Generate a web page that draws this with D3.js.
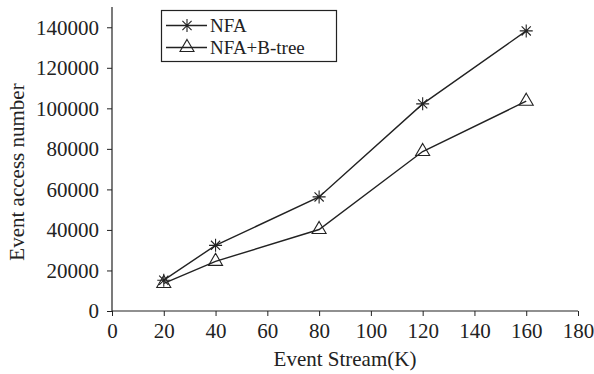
<!DOCTYPE html>
<html><head><meta charset="utf-8">
<script src="https://cdn.jsdelivr.net/npm/d3@7"></script>
<style>body{margin:0;background:#fff}svg{display:block}</style>
</head><body>
<script>
const xValues = [20, 40, 80, 120, 160];
const nfa = [15200, 32400, 56300, 102200, 138200];
const nfaBtree = [13600, 24500, 40200, 78700, 103500];
const seriesNames = ["NFA", "NFA+B-tree"];
const xTicks = [0, 20, 40, 60, 80, 100, 120, 140, 160, 180];
const yTicks = [0, 20000, 40000, 60000, 80000, 100000, 120000, 140000];

const W = 594, H = 374;
const font = "'Liberation Serif','Times New Roman',serif";
const fs = 21;
const ink = "#222";
const svg = d3.select("body").append("svg").attr("width", W).attr("height", H);

const x = d3.scaleLinear().domain([0, 180]).range([112, 578]);
const y = d3.scaleLinear().domain([0, 150000]).range([311, 7]);

const gx = svg.append("g").attr("transform", `translate(0,${y(0)})`);
gx.call(d3.axisBottom(x).tickValues(d3.range(10, 180, 20)).tickSize(3).tickFormat(""));
gx.call(d3.axisBottom(x).tickValues(xTicks).tickSize(5).tickSizeOuter(0).tickPadding(7).tickFormat(d3.format("d")));
const gy = svg.append("g").attr("transform", `translate(${x(0)},0)`);
gy.call(d3.axisLeft(y).tickValues(d3.range(10000, 150001, 20000)).tickSize(3).tickFormat(""));
gy.call(d3.axisLeft(y).tickValues(yTicks).tickSize(5).tickSizeOuter(0).tickPadding(8).tickFormat(d3.format("d")));
svg.selectAll(".domain").attr("stroke", ink).attr("stroke-width", 1.2);
svg.selectAll(".tick line").attr("stroke", ink).attr("stroke-width", 1);
svg.selectAll(".tick text").attr("font-family", font).attr("font-size", fs).attr("fill", ink);
gy.select(".domain").attr("d", `M0,${y(150000)}V${y(0)}`);
gx.select(".domain").attr("d", `M${x(0)},0H${x(180)}`);

svg.append("text").attr("x", x(90)).attr("y", 366).attr("text-anchor", "middle")
  .attr("font-family", font).attr("font-size", fs).attr("fill", ink).text("Event Stream(K)");
svg.append("text").attr("transform", `translate(24,172) rotate(-90)`)
  .attr("text-anchor", "middle").attr("font-family", font).attr("font-size", fs).attr("fill", ink)
  .text("Event access number");

const line = d3.line().x(d => x(d[0])).y(d => y(d[1]));
const s1 = xValues.map((v, i) => [v, nfa[i]]);
const s2 = xValues.map((v, i) => [v, nfaBtree[i]]);
[s1, s2].forEach(s => svg.append("path").attr("d", line(s)).attr("fill", "none")
  .attr("stroke", ink).attr("stroke-width", 1.4));

function star(g, cx, cy) {
  const r = 6.5;
  const p = [];
  for (let k = 0; k < 4; k++) {
    const a = k * Math.PI / 4;
    p.push(`M${cx - r*Math.cos(a)},${cy - r*Math.sin(a)}L${cx + r*Math.cos(a)},${cy + r*Math.sin(a)}`);
  }
  g.append("path").attr("d", p.join("")).attr("stroke", ink).attr("stroke-width", 1.1).attr("fill", "none");
}
function tri(g, cx, cy) {
  g.append("path").attr("d", d3.symbol().type(d3.symbolTriangle).size(85)())
    .attr("transform", `translate(${cx},${cy})`).attr("fill", "none").attr("stroke", ink).attr("stroke-width", 1.1);
}
s1.forEach(d => star(svg, x(d[0]), y(d[1])));
s2.forEach(d => tri(svg, x(d[0]), y(d[1])));

const lg = svg.append("g");
lg.append("rect").attr("x", 161.5).attr("y", 10.5).attr("width", 175).attr("height", 51)
  .attr("fill", "#fff").attr("stroke", ink).attr("stroke-width", 1.2);
const rows = [25.5, 47.5];
rows.forEach((ry, i) => {
  lg.append("line").attr("x1", 166).attr("x2", 207).attr("y1", ry).attr("y2", ry).attr("stroke", ink).attr("stroke-width", 1.4);
  if (i === 0) star(lg, 187, ry); else tri(lg, 187, ry);
  lg.append("text").attr("x", 210).attr("y", ry + 6.5).attr("font-family", font).attr("font-size", 19)
    .attr("fill", ink).text(seriesNames[i]);
});
</script>
</body></html>
